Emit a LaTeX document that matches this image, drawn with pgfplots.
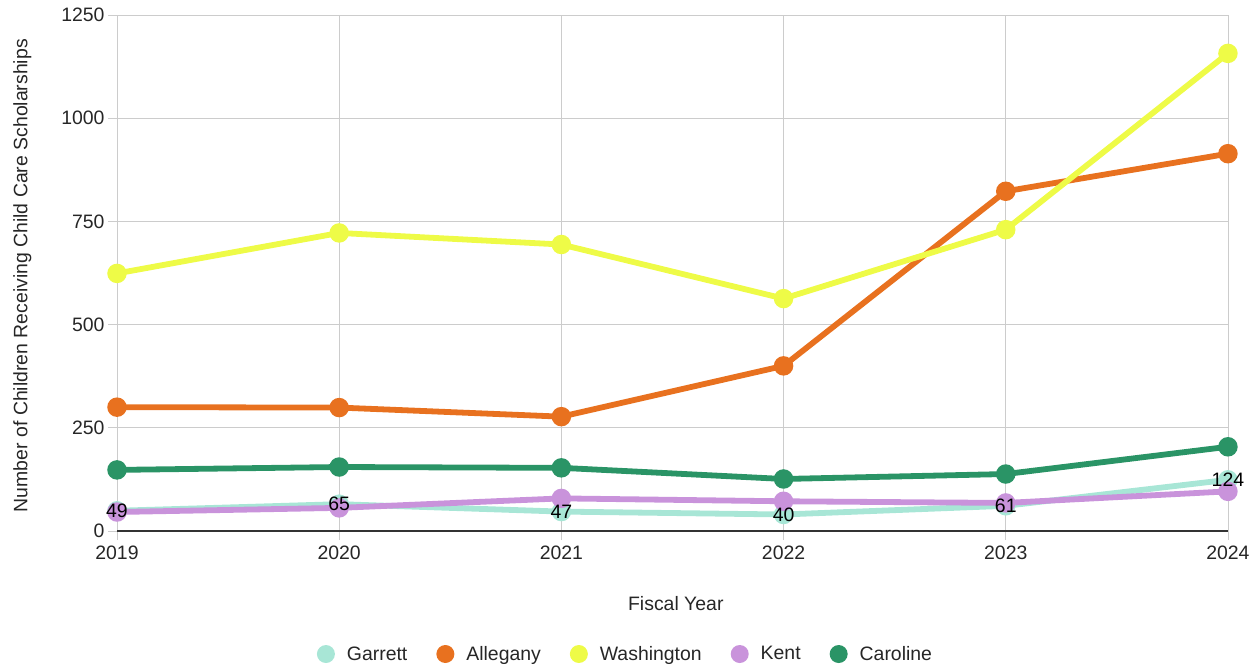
\documentclass[border=0pt]{standalone}
\usepackage{pgfplots}
\pgfplotsset{compat=1.18}
\usepackage{fontspec}
\setmainfont{Liberation Sans}
\definecolor{cgar}{HTML}{A8E6D6}
\definecolor{call}{HTML}{E8711F}
\definecolor{cwas}{HTML}{EEFB47}
\definecolor{cken}{HTML}{C993DB}
\definecolor{ccar}{HTML}{2A9466}
\definecolor{cgrid}{HTML}{CCCCCC}
\begin{document}
\begin{tikzpicture}
\useasboundingbox (-117bp,-135bp) rectangle (1138bp,531bp);
\begin{axis}[
  at={(0,0)}, anchor=south west,
  scale only axis,
  width=1111bp, height=516bp,
  xmin=2019, xmax=2024, ymin=0, ymax=1250,
  xtick={2019,2020,2021,2022,2023,2024},
  ytick={0,250,500,750,1000,1250},
  /pgf/number format/1000 sep={},
  /pgf/number format/assume math mode=true,
  grid=major,
  major grid style={cgrid, line width=0.8bp},
  axis line style={draw=none},
  axis x line*=bottom,
  axis y line*=left,
  x axis line style={draw=black!80, line width=1.2bp},
  tick align=outside,
  xtick style={draw=cgrid, line width=0.8bp},
  ytick style={draw=cgrid, line width=0.8bp},
  major tick length=9bp,
  tick label style={font=\fontsize{19.5}{23}\selectfont, text=black!85},
  xticklabel style={yshift=-2bp},
  xlabel={Fiscal Year},
  ylabel={Number of Children Receiving Child Care Scholarships},
  label style={font=\fontsize{19.5}{23}\selectfont, text=black!85},
  xlabel style={at={(axis description cs:0.503,-0.1415)}, anchor=center},
  ylabel style={at={(axis description cs:-0.0853,0.495)}, anchor=center},
  clip=false,
  legend columns=5,
  legend style={at={(axis description cs:0.4577,-0.2384)}, anchor=center, draw=none, fill=none,
    font=\fontsize{19.5}{23}\selectfont, text=black!85,
    /tikz/every even column/.append style={column sep=27bp}},
  legend image code/.code={\fill[#1, draw=none] (0bp,0bp) circle (9bp); \path[draw=none, fill=none] (-9bp,-1bp) rectangle (19bp,1bp);},
  every axis plot/.append style={line width=5.8bp, mark=*, mark size=6.8bp},
]
\addplot[color=cgar, mark options={fill=cgar, draw=cgar}] coordinates {(2019,49) (2020,65) (2021,47) (2022,40) (2023,61) (2024,124)};
\addlegendentry{Garrett}
\addplot[color=call, mark options={fill=call, draw=call}] coordinates {(2019,300) (2020,299) (2021,277) (2022,400) (2023,823) (2024,914)};
\addlegendentry{Allegany}
\addplot[color=cwas, mark options={fill=cwas, draw=cwas}] coordinates {(2019,624) (2020,722) (2021,694) (2022,563) (2023,730) (2024,1157)};
\addlegendentry{Washington}
\addplot[color=cken, mark options={fill=cken, draw=cken}] coordinates {(2019,46) (2020,56) (2021,79) (2022,72) (2023,68) (2024,96)};
\addlegendentry{Kent\vphantom{g}}
\addplot[color=ccar, mark options={fill=ccar, draw=ccar}] coordinates {(2019,148) (2020,155) (2021,153) (2022,126) (2023,138) (2024,204)};
\addlegendentry{Caroline}
\addplot[draw=none, mark=none, forget plot, nodes near coords,
  every node near coord/.append style={anchor=center, text=black, inner sep=1bp,
    font=\fontsize{19.5}{23}\selectfont}]
  coordinates {(2019,49) (2020,65) (2021,47) (2022,40) (2023,61) (2024,124)};
\end{axis}
\end{tikzpicture}
\end{document}
